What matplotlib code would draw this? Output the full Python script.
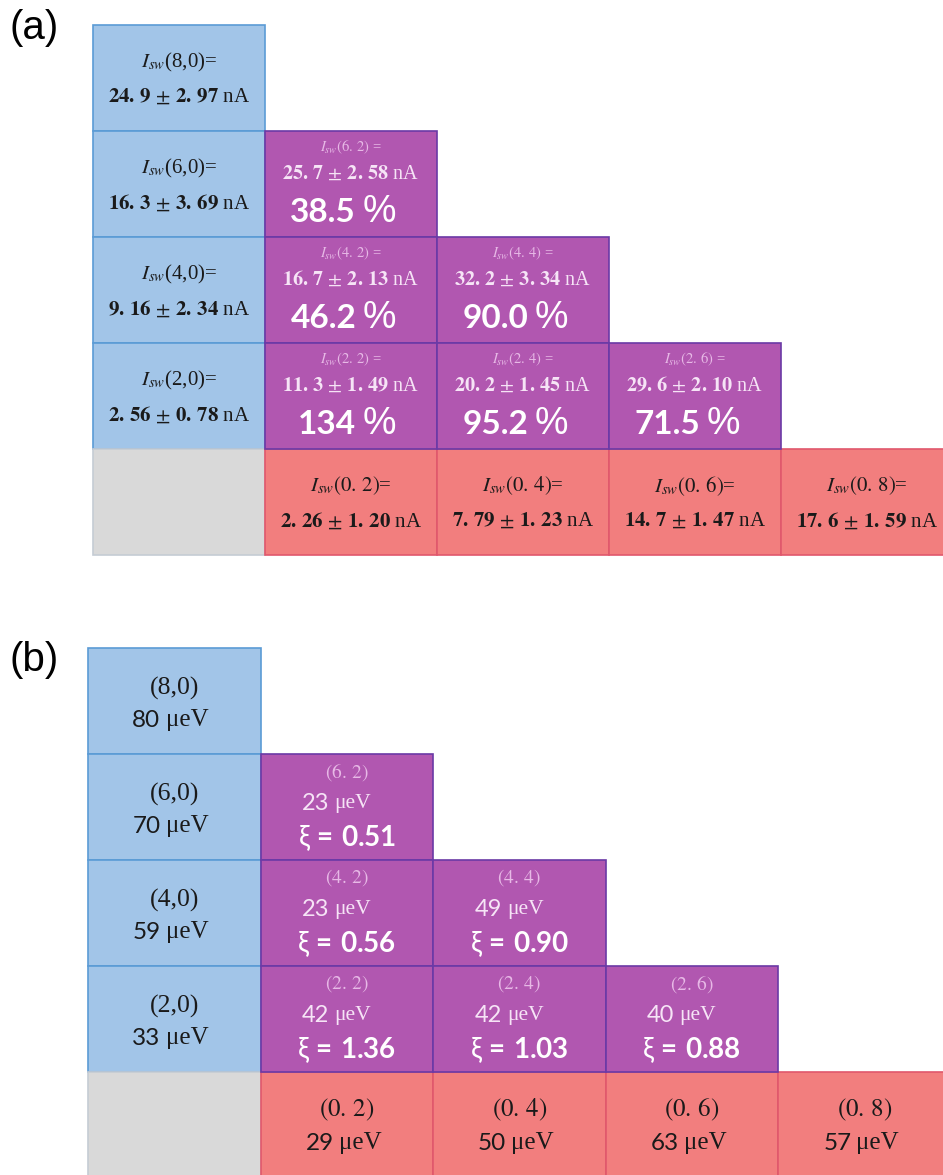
import matplotlib
matplotlib.use("Agg")
import matplotlib.pyplot as plt
from matplotlib.patches import Rectangle

# math in sans texts uses Lato; serif texts switch to STIX per call
plt.rcParams["mathtext.fontset"] = "custom"
plt.rcParams["mathtext.rm"] = "Lato"
plt.rcParams["mathtext.bf"] = "Lato:bold"
plt.rcParams["mathtext.it"] = "Lato:italic"

# ---------------- data ----------------
# single-element junctions (n, 0): switching current mean and error [nA]
blue_pairs = [(8, 0), (6, 0), (4, 0), (2, 0)]
blue_isw = ["24.9", "16.3", "9.16", "2.56"]
blue_err = ["2.97", "3.69", "2.34", "0.78"]

# single-element junctions (0, m)
red_pairs = [(0, 2), (0, 4), (0, 6), (0, 8)]
red_isw = ["2.26", "7.79", "14.7", "17.6"]
red_err = ["1.20", "1.23", "1.47", "1.59"]

# mixed junctions (n, m)
mix_pairs = [(6, 2), (4, 2), (4, 4), (2, 2), (2, 4), (2, 6)]
mix_isw = ["25.7", "16.7", "32.2", "11.3", "20.2", "29.6"]
mix_err = ["2.58", "2.13", "3.34", "1.49", "1.45", "2.10"]
mix_pct = ["38.5", "46.2", "90.0", "134", "95.2", "71.5"]

# gap energies [ueV] and coupling xi
blue_gap = [80, 70, 59, 33]
red_gap = [29, 50, 63, 57]
mix_gap = [23, 23, 49, 42, 42, 40]
mix_xi = ["0.51", "0.56", "0.90", "1.36", "1.03", "0.88"]

# ---------------- styling ----------------
BLUE, BLUE_EDGE = "#a2c5e8", "#5b9bd5"
PURPLE, PURPLE_EDGE = "#b157b0", "#6b3aa6"
RED, RED_EDGE = "#f27e7e", "#e0586c"
GRAY, GRAY_EDGE = "#d9d9d9", "#c5ccd4"
SERIF = ["Liberation Serif", "DejaVu Serif"]
SANS = ["Lato", "DejaVu Sans"]
DARK = "#1a1a1a"
FAINT = "#e7b9e6"
LIGHT = "#f6e4f6"

W, H = 943, 1175
fig = plt.figure(figsize=(W / 100, H / 100), dpi=100)


def make_axes(x0, y0, cw, ch):
    ax = fig.add_axes([x0 / W, 1 - (y0 + 5 * ch) / H, 5 * cw / W, 5 * ch / H])
    ax.set_xlim(0, 5)
    ax.set_ylim(5, 0)
    ax.axis("off")
    return ax


def cell(ax, row, col, face, edge):
    ax.add_patch(Rectangle((col, row), 1, 1, facecolor=face, edgecolor=edge,
                           linewidth=1.2, clip_on=False))


def pos(pair):
    n, m = pair
    return (4 if n == 0 else (8 - n) // 2), m // 2


def spaced(num):
    # wide gap after the decimal point, as typeset in the slide
    return num.replace(".", r".\,")


def value_line(v, e):
    return rf"$\mathbf{{{spaced(v)}}}\,\pm\,\mathbf{{{spaced(e)}}}$ nA"


def serif_text(ax, x, y, s, size, color, **kw):
    ax.text(x, y, s, ha="center", va="center", fontsize=size, family=SERIF,
            color=color, math_fontfamily="stix", **kw)


def energy(ax, x, y, g, dnum, dunit, nsize, usize, color):
    ax.text(x + dnum, y, f"{g}", ha="right", va="center", fontsize=nsize,
            family=SANS, color=color)
    ax.text(x + dunit, y, "μeV", ha="left", va="center", fontsize=usize,
            family=SERIF, color=color)


# ---------------- panel (a) ----------------
ax_a = make_axes(93, 25, 172, 106)
fig.text(9 / W, 1 - 28 / H, "(a)", fontsize=29, family=["Liberation Sans"],
         va="center", ha="left")

for pair, v, e in zip(blue_pairs, blue_isw, blue_err):
    r, c = pos(pair)
    cell(ax_a, r, c, BLUE, BLUE_EDGE)
    serif_text(ax_a, c + 0.5, r + 0.35, r"$I_{sw}$" + f"({pair[0]},{pair[1]})=",
               15, DARK)
    serif_text(ax_a, c + 0.5, r + 0.68, value_line(v, e), 15, DARK)

cell(ax_a, 4, 0, GRAY, GRAY_EDGE)

for pair, v, e in zip(red_pairs, red_isw, red_err):
    r, c = pos(pair)
    cell(ax_a, r, c, RED, RED_EDGE)
    serif_text(ax_a, c + 0.5, r + 0.35,
               r"$I_{sw}$" + rf"$(0.\,{pair[1]})$=", 15, DARK)
    serif_text(ax_a, c + 0.5, r + 0.68, value_line(v, e), 15, DARK)

for pair, v, e, p in zip(mix_pairs, mix_isw, mix_err, mix_pct):
    r, c = pos(pair)
    cell(ax_a, r, c, PURPLE, PURPLE_EDGE)
    serif_text(ax_a, c + 0.5, r + 0.15,
               r"$I_{sw}$" + rf"$({pair[0]}.\,{pair[1]})$ =", 10.5, FAINT)
    serif_text(ax_a, c + 0.5, r + 0.41, value_line(v, e), 14.5, LIGHT)
    ax_a.text(c + 0.53, r + 0.77, p, ha="right", va="center", fontsize=24,
              family=SANS, weight="bold", color="white")
    ax_a.text(c + 0.565, r + 0.765, "%", ha="left", va="center", fontsize=27,
              family=["Liberation Sans"], weight="normal", color="white")

# ---------------- panel (b) ----------------
ax_b = make_axes(88, 648, 172.5, 106)
fig.text(9 / W, 1 - 660 / H, "(b)", fontsize=29, family=["Liberation Sans"],
         va="center", ha="left")

for pair, g in zip(blue_pairs, blue_gap):
    r, c = pos(pair)
    cell(ax_b, r, c, BLUE, BLUE_EDGE)
    serif_text(ax_b, c + 0.5, r + 0.38, f"({pair[0]},{pair[1]})", 18.5, DARK)
    energy(ax_b, c + 0.5, r + 0.68, g, -0.08, -0.05, 17.5, 18, DARK)

cell(ax_b, 4, 0, GRAY, GRAY_EDGE)

for pair, g in zip(red_pairs, red_gap):
    r, c = pos(pair)
    cell(ax_b, r, c, RED, RED_EDGE)
    serif_text(ax_b, c + 0.5, r + 0.36, rf"$(0.\,{pair[1]})$", 18, DARK)
    energy(ax_b, c + 0.5, r + 0.67, g, -0.075, -0.045, 17.5, 18, DARK)

for pair, g, xi in zip(mix_pairs, mix_gap, mix_xi):
    r, c = pos(pair)
    cell(ax_b, r, c, PURPLE, PURPLE_EDGE)
    serif_text(ax_b, c + 0.5, r + 0.17, rf"$({pair[0]}.\,{pair[1]})$", 14, FAINT)
    energy(ax_b, c + 0.5, r + 0.465, g, -0.10, -0.07, 17, 15.5, LIGHT)
    ax_b.text(c + 0.5, r + 0.79, rf"ξ$\mathbf{{\,=\,{xi}}}$", ha="center",
              va="center", fontsize=20, family=SANS, color="white")

fig.savefig("out.png", dpi=100)
